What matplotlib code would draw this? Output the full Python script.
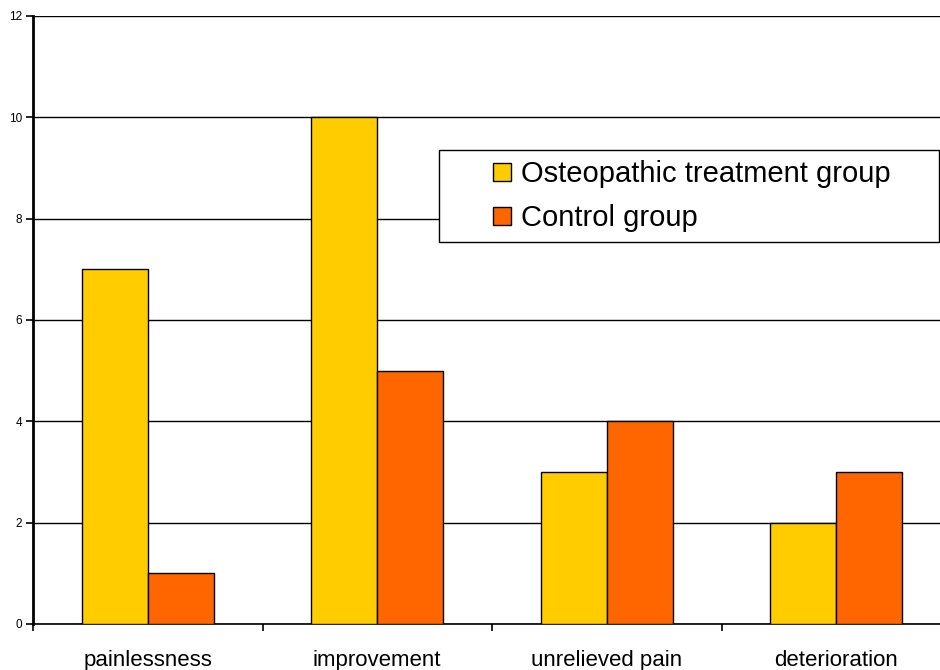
import numpy as np
import matplotlib.pyplot as plt
from matplotlib.lines import Line2D
from matplotlib.patches import Rectangle

plt.rcParams['font.family'] = ['Liberation Sans', 'DejaVu Sans']

categories = ["painlessness", "improvement", "unrelieved pain", "deterioration"]
osteopathic = [7, 10, 3, 2]
control = [1, 5, 4, 3]
series_names = ["Osteopathic treatment group", "Control group"]
colors = ["#FFCC00", "#FF6600"]

fig = plt.figure(figsize=(9.4, 6.7), dpi=100)
# axes run slightly past the right edge of the figure
ax = fig.add_axes([33 / 940, 46 / 670, 918 / 940, 608 / 670])

x = np.arange(len(categories))
w = 0.288
ax.bar(x - w / 2, osteopathic, w, color=colors[0], edgecolor="black", linewidth=1, zorder=3)
ax.bar(x + w / 2, control, w, color=colors[1], edgecolor="black", linewidth=1, zorder=3)

ax.set_xlim(-0.5, len(categories) - 0.5)
ax.set_ylim(0, 12)
ax.set_yticks(range(0, 13, 2))
ax.yaxis.grid(True, color="black", linewidth=1)
ax.set_axisbelow(True)

ax.set_xticks(x)
ax.set_xticklabels(categories, fontsize=16)
ax.tick_params(axis="x", which="major", length=0, pad=19)
ax.set_xticks(np.arange(-0.5, len(categories), 1), minor=True)
ax.tick_params(axis="x", which="minor", length=5, width=1.2, direction="out")
ax.tick_params(axis="y", labelsize=8.5, length=5, width=1.2, pad=3)

for s in ["top", "right"]:
    ax.spines[s].set_visible(False)
ax.spines["left"].set_linewidth(2)
ax.spines["bottom"].set_linewidth(1.2)

# legend box drawn as a separate frame, entries placed inside it
fig.patches.append(Rectangle((439 / 940, 1 - 242 / 670), 500 / 940, 92 / 670,
                             transform=fig.transFigure, facecolor="white",
                             edgecolor="black", linewidth=1, zorder=5))
handles = [Line2D([], [], marker="s", linestyle="none", markersize=12.5,
                  markerfacecolor=c, markeredgecolor="black", markeredgewidth=1)
           for c in colors]
leg = fig.legend(handles, series_names, loc="center left",
                 bbox_to_anchor=(487 / 940, 1 - 196 / 670),
                 bbox_transform=fig.transFigure, fontsize=21,
                 frameon=False, borderaxespad=0, borderpad=0,
                 handletextpad=0.15, labelspacing=0.55, handlelength=1.0)
leg.set_zorder(6)

fig.savefig("out.png", dpi=100)
